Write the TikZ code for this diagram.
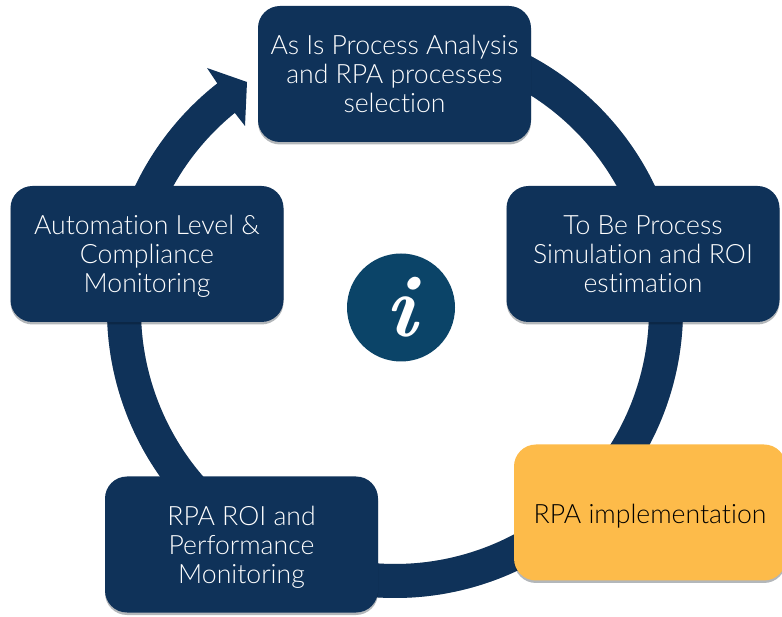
\documentclass[tikz,border=0pt]{standalone}
\usepackage{fontspec}
\setmainfont[Ligatures=NoCommon]{Lato Light}
\newfontfamily\infofont{Latin Modern Roman}
\usetikzlibrary{shadows,calc}
\definecolor{navy}{HTML}{0F3259}
\definecolor{infoblue}{HTML}{0B4468}
\definecolor{amber}{HTML}{FDBB4A}
\newcommand{\textdrop}[1]{\rule{0pt}{#1}}
\tikzset{
  x=1pt,y=1pt,
  stage/.style={rectangle,rounded corners=22pt,minimum width=273pt,minimum height=136pt,inner sep=0pt,
    fill=navy,text=white,align=center,font=\fontsize{26.6}{29}\selectfont,
    drop shadow={shadow xshift=0pt,shadow yshift=-2.5pt,fill=black!70!navy,opacity=.3}},
  current/.style={fill=amber,text=black},
  ring/.style={draw=navy,line width=34pt,line cap=butt},
  ringshade/.style={draw=black!70!navy,opacity=.2,line width=34pt,line cap=butt,yshift=-1.5pt},
  arrowband/.style={fill=navy,draw=none}
}
\begin{document}
\begin{tikzpicture}
\useasboundingbox (0,0) rectangle (782,616);
\coordinate (centre) at (395,306);
\coordinate (ra) at ($(centre)+(75:271)$);
\coordinate (rc) at ($(centre)+(10:271)$);
\coordinate (re) at ($(centre)+(-45:271)$);
\coordinate (rg) at ($(centre)+(-120:271)$);
\coordinate (outerstart) at ($(centre)+(160:288)$);
\coordinate (innerend) at ($(centre)+(129.1:254)$);
\draw[ringshade] (ra) arc[start angle=75,end angle=20,radius=271];
\draw[ringshade] (rc) arc[start angle=10,end angle=-35,radius=271];
\draw[ringshade] (re) arc[start angle=-45,end angle=-100,radius=271];
\draw[ringshade] (rg) arc[start angle=-120,end angle=-200,radius=271];
\draw[ring] (ra) arc[start angle=75,end angle=20,radius=271];
\draw[ring] (rc) arc[start angle=10,end angle=-35,radius=271];
\draw[ring] (re) arc[start angle=-45,end angle=-100,radius=271];
\draw[ring] (rg) arc[start angle=-120,end angle=-200,radius=271];
\fill[arrowband] (outerstart) arc[start angle=160,end angle=128.1,radius=288] -- (207,548) -- (247,534) -- (245,490) -- (innerend) arc[start angle=129.1,end angle=160,radius=254] -- cycle;
\node[stage] (left) at (147,362) {\textdrop{24pt}Automation Level \&\\Compliance\\Monitoring};
\node[stage] (top) at (394.5,542) {As Is Process Analysis\\and RPA processes\\selection};
\node[stage] (right) at (643,362) {To Be Process\\Simulation and ROI\\estimation};
\node[stage,current,minimum width=272pt] (impl) at (650,103.5) {\textdrop{26pt}RPA implementation};
\node[stage] (bottom) at (241.5,71.5) {\textdrop{25pt}RPA ROI and\\Performance\\Monitoring};
\node[circle,fill=infoblue,minimum size=108pt,inner sep=0pt,text=white,font=\fontsize{88}{88}\infofont\bfseries\itshape] (info) at (401,308.5) {i};
\end{tikzpicture}
\end{document}
